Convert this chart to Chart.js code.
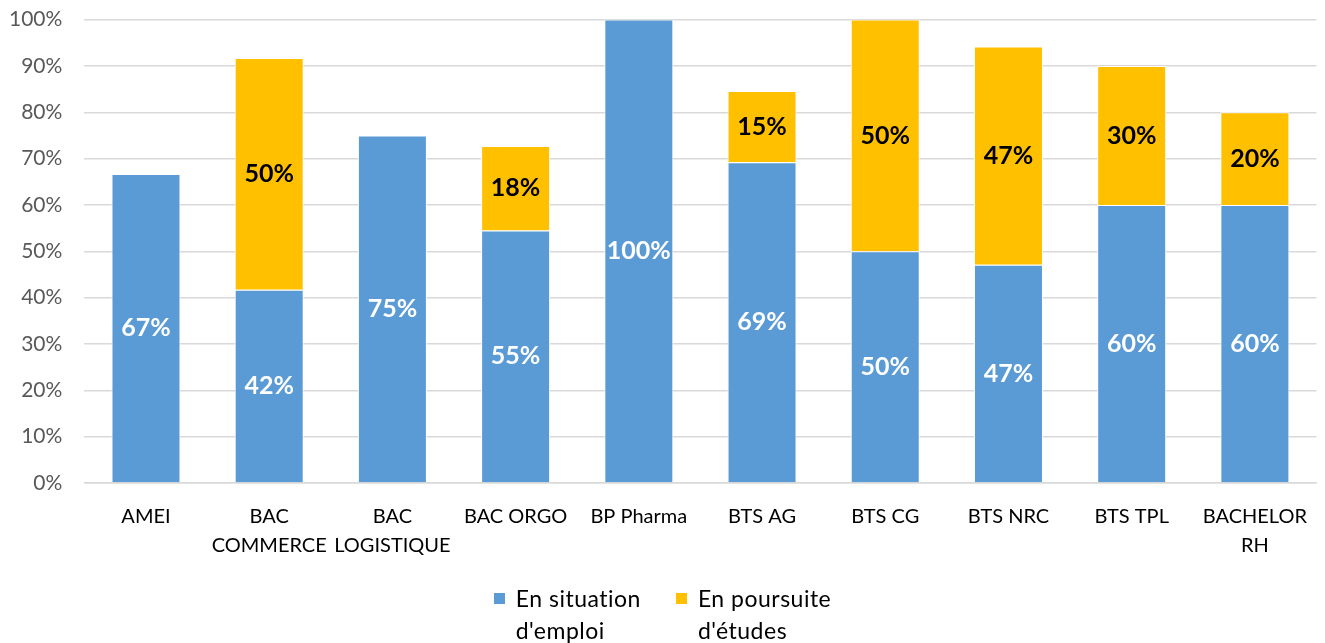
<!DOCTYPE html>
<html>
<head>
<meta charset="utf-8">
<script src="https://cdn.jsdelivr.net/npm/chart.js@4"></script>
<style>
  html, body { margin: 0; padding: 0; background: #fff; }
  #wrap { position: relative; width: 1325px; height: 643px; overflow: hidden; }
  #chart { position: absolute; left: 0; top: -15px; }
  #legend {
    position: absolute; left: 0; top: 582px; width: 1325px;
    display: flex; justify-content: center; gap: 35px;
    font-family: Lato, Calibri, sans-serif; font-size: 23px; line-height: 32px;
    letter-spacing: 0.5px; color: #000; font-variant-ligatures: none;
  }
  .item { display: flex; align-items: flex-start; }
  .box { width: 11px; height: 11px; margin: 11px 11px 0 0; }
</style>
</head>
<body>
<div id="wrap">
  <canvas id="chart" width="1326" height="658"></canvas>
  <div id="legend"></div>
</div>
<script>
const categories = [
  'AMEI', ['BAC', 'COMMERCE'], ['BAC', 'LOGISTIQUE'], 'BAC ORGO', 'BP Pharma',
  'BTS AG', 'BTS CG', 'BTS NRC', 'BTS TPL', ['BACHELOR', 'RH']
];
const emploi = [66.7, 41.7, 75, 54.5, 100, 69.2, 50, 47.1, 60, 60];
const etudes = [0, 50, 0, 18.2, 0, 15.4, 50, 47.1, 30, 20];
const seriesNames = [['En situation', "d'emploi"], ['En poursuite', "d'études"]];
const yTicks = [0, 10, 20, 30, 40, 50, 60, 70, 80, 90, 100];

const FONT = 'Lato, Calibri, sans-serif';

// draws the % value in the middle of each segment
const segmentLabels = {
  id: 'segmentLabels',
  afterDatasetsDraw(chart) {
    const ctx = chart.ctx;
    ctx.save();
    ctx.font = 'bold 25px ' + FONT;
    ctx.textAlign = 'center';
    ctx.textBaseline = 'middle';
    chart.data.datasets.forEach((ds, i) => {
      const meta = chart.getDatasetMeta(i);
      meta.data.forEach((bar, j) => {
        const v = ds.data[j];
        if (!v) return;
        ctx.fillStyle = ds.labelColor;
        ctx.fillText(Math.round(v) + '%', bar.x, (bar.y + bar.base) / 2);
      });
    });
    ctx.restore();
  }
};

const chart = new Chart(document.getElementById('chart').getContext('2d'), {
  type: 'bar',
  data: {
    labels: categories,
    datasets: [
      {
        label: seriesNames[0],
        data: emploi,
        backgroundColor: '#5B9BD5',
        borderColor: '#ffffff',
        borderWidth: 1,
        labelColor: '#ffffff'
      },
      {
        label: seriesNames[1],
        data: etudes,
        backgroundColor: '#FFC000',
        borderColor: '#ffffff',
        borderWidth: 1,
        labelColor: '#000000'
      }
    ]
  },
  options: {
    responsive: false,
    animation: false,
    layout: { padding: { left: -13, right: 0, top: 0, bottom: 64 } },
    datasets: {
      bar: { categoryPercentage: 1, barPercentage: 0.56 }
    },
    plugins: {
      tooltip: { enabled: false },
      legend: { display: false }
    },
    scales: {
      x: {
        stacked: true,
        grid: { display: false, drawTicks: false },
        border: { color: '#D9D9D9', width: 1.5 },
        ticks: {
          font: { family: FONT, size: 20, lineHeight: 1.45 },
          color: '#000000',
          maxRotation: 0,
          autoSkip: false,
          padding: 19
        }
      },
      y: {
        stacked: true,
        min: 0,
        max: 100,
        afterBuildTicks(axis) {
          axis.ticks = yTicks.map(v => ({ value: v }));
        },
        grid: { color: '#D9D9D9', lineWidth: 1.5, drawTicks: false },
        border: { display: false },
        ticks: {
          font: { family: FONT, size: 21 },
          color: '#595959',
          padding: 22,
          callback: v => v + '%'
        }
      }
    }
  },
  plugins: [segmentLabels]
});

// legend as html, built from the datasets
const legend = document.getElementById('legend');
chart.data.datasets.forEach(ds => {
  const item = document.createElement('div');
  item.className = 'item';
  const box = document.createElement('div');
  box.className = 'box';
  box.style.background = ds.backgroundColor;
  const txt = document.createElement('div');
  txt.innerHTML = ds.label.join('<br>');
  item.appendChild(box);
  item.appendChild(txt);
  legend.appendChild(item);
});
</script>
</body>
</html>
